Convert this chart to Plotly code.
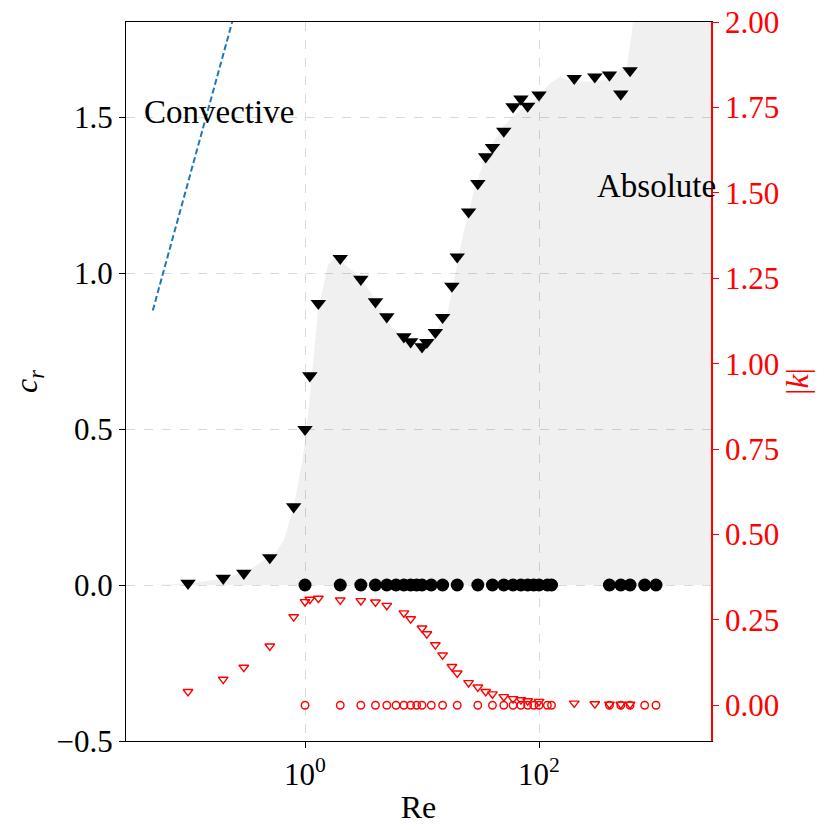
import plotly.graph_objects as go

# ---- data ----
re_tri = [0.1, 0.2, 0.3, 0.5, 0.8, 1.0, 1.1, 1.3, 2, 3, 4, 5, 7, 8, 10, 11, 13, 15, 18, 20,
          25, 30, 35, 40, 50, 60, 70, 80, 100, 200, 300, 400, 500, 600]
cr_tri = [0.006, 0.022, 0.038, 0.088, 0.251, 0.499, 0.671, 0.903, 1.047, 0.980, 0.908, 0.860,
          0.796, 0.780, 0.764, 0.778, 0.810, 0.858, 0.958, 1.052, 1.196, 1.287, 1.373, 1.403,
          1.455, 1.533, 1.558, 1.535, 1.571, 1.624, 1.629, 1.635, 1.574, 1.649]
k_tri = [0.040, 0.076, 0.111, 0.173, 0.259, 0.303, 0.310, 0.313, 0.308, 0.306, 0.302, 0.292,
         0.270, 0.253, 0.226, 0.209, 0.177, 0.147, 0.113, 0.094, 0.066, 0.053, 0.040, 0.033,
         0.025, 0.019, 0.016, 0.013, 0.011, 0.006, 0.004, 0.003, 0.003, 0.003]

re_circ = [1, 2, 3, 4, 5, 6, 7, 8, 9, 10, 12, 15, 20, 30, 40, 50, 60, 70, 80, 90, 100, 118, 128,
           400, 500, 600, 800, 1000]
cr_circ = [0.0] * len(re_circ)
k_circ = [0.0] * len(re_circ)

# boundary of the shaded "Absolute" region
abs_re = [0.05, 0.1, 0.2, 0.28, 0.34, 0.44, 0.57, 0.66, 0.8, 0.96, 1.06, 1.29, 1.57, 1.75, 2.0,
          2.5, 3.0, 3.84, 5.0, 6.9, 9.6, 12.4, 16.7, 19.8, 22.6, 28.4, 35.7, 49, 69, 95, 124,
          151, 195, 256, 380, 560, 620, 653, 700, 3000]
abs_cr = [0.0, 0.005, 0.02, 0.038, 0.05, 0.078, 0.107, 0.144, 0.25, 0.41, 0.54, 0.88, 1.026,
          1.045, 1.04, 1.01, 0.985, 0.924, 0.844, 0.795, 0.776, 0.795, 0.88, 1.02, 1.128, 1.277,
          1.384, 1.469, 1.522, 1.56, 1.608, 1.629, 1.614, 1.614, 1.619, 1.66, 1.768, 1.85, 2.5, 2.5]

conv_re = [0.05, 0.3]
conv_cr = [0.88, 1.94]

x_ticks = [1, 100]
x_ticktext = ["10<sup>0</sup>", "10<sup>2</sup>"]
y_ticks = [-0.5, 0.0, 0.5, 1.0, 1.5]
y_ticktext = ["\u22120.5", "0.0", "0.5", "1.0", "1.5"]
y2_ticks = [0.0, 0.25, 0.5, 0.75, 1.0, 1.25, 1.5, 1.75, 2.0]
y2_ticktext = ["%.2f" % v for v in y2_ticks]

FONT = "Liberation Serif"

fig = go.Figure()
fig.add_trace(go.Scatter(x=abs_re, y=abs_cr, mode="lines", line=dict(width=0),
                         fill="tozeroy", fillcolor="rgba(0,0,0,0.06)", hoverinfo="skip",
                         showlegend=False))
fig.add_trace(go.Scatter(x=conv_re, y=conv_cr, mode="lines",
                         line=dict(color="#1f77b4", width=2, dash="6px,3px"), showlegend=False))
fig.add_trace(go.Scatter(x=re_tri, y=cr_tri, mode="markers",
                         marker=dict(symbol="triangle-down", size=13.5, color="black"),
                         showlegend=False))
fig.add_trace(go.Scatter(x=re_circ, y=cr_circ, mode="markers",
                         marker=dict(symbol="circle", size=13, color="black"),
                         showlegend=False))
fig.add_trace(go.Scatter(x=re_tri, y=k_tri, mode="markers", yaxis="y2",
                         marker=dict(symbol="triangle-down-open", size=8.5, color="red",
                                     line=dict(width=1.4, color="red")),
                         showlegend=False))
fig.add_trace(go.Scatter(x=re_circ, y=k_circ, mode="markers", yaxis="y2",
                         marker=dict(symbol="circle-open", size=7.5, color="red",
                                     line=dict(width=1.4, color="red")),
                         showlegend=False))

fig.add_annotation(x=-0.738, y=1.515, xref="x", yref="y", text="Convective", showarrow=False,
                   font=dict(family=FONT, size=33, color="black"), xanchor="center",
                   yanchor="middle")
fig.add_annotation(x=3.004, y=1.28, xref="x", yref="y", text="Absolute", showarrow=False,
                   font=dict(family=FONT, size=33, color="black"), xanchor="center",
                   yanchor="middle")

fig.update_layout(
    width=822, height=822, autosize=False,
    margin=dict(l=118, r=119, t=14, b=89, autoexpand=False),
    plot_bgcolor="white", paper_bgcolor="white",
    font=dict(family=FONT, size=31, color="black"),
    xaxis=dict(type="log", range=[-1.53, 3.47], tickvals=x_ticks, ticktext=x_ticktext,
               ticks="outside", ticklen=6, tickwidth=1.2, tickcolor="black",
               showline=True, linecolor="black", linewidth=1.2, mirror=True,
               showgrid=True, gridcolor="#d9d9d9", griddash="dash", gridwidth=1,
               zeroline=False, automargin=False, ticklabeloverflow="allow",
               title=dict(text="Re", font=dict(size=32), standoff=4)),
    yaxis=dict(range=[-0.5, 1.8045], tickvals=y_ticks, ticktext=y_ticktext,
               ticks="outside", ticklen=6, tickwidth=1.2, tickcolor="black",
               showline=True, linecolor="black", linewidth=1.2,
               showgrid=True, gridcolor="#d9d9d9", griddash="dash", gridwidth=1,
               zeroline=False, automargin=False, ticklabeloverflow="allow",
               title=dict(text="<i>c</i><sub><i>r</i></sub>", font=dict(size=32), standoff=19)),
    yaxis2=dict(overlaying="y", side="right", range=[-0.1046, 2.0004], tickvals=y2_ticks,
                ticktext=y2_ticktext, ticks="outside", ticklen=6, tickwidth=1.2,
                tickcolor="red", tickfont=dict(color="red"),
                showline=True, linecolor="red", linewidth=1.5,
                showgrid=False, zeroline=False, automargin=False, ticklabeloverflow="allow",
                title=dict(text="|<i>k</i>|", font=dict(size=32, color="red"), standoff=4)),
)

fig.write_html("out.html")
